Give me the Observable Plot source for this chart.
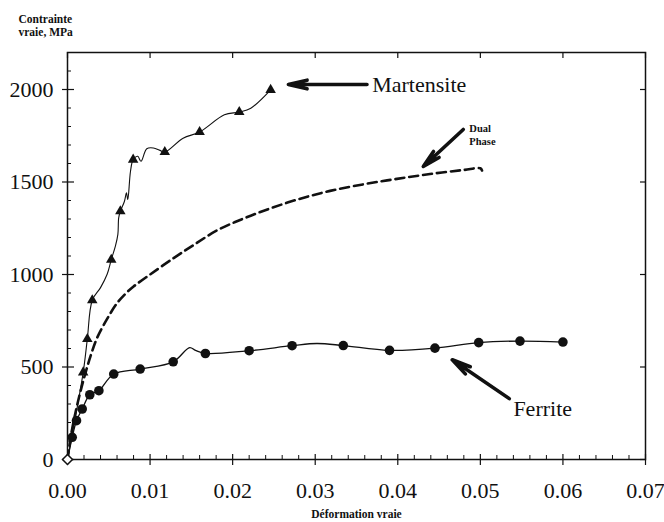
<!DOCTYPE html>
<html>
<head>
<meta charset="utf-8">
<script src="https://cdn.jsdelivr.net/npm/d3@7"></script>
<script src="https://cdn.jsdelivr.net/npm/@observablehq/plot@0.6"></script>
<style>
  html, body { margin: 0; padding: 0; background: #fff; }
</style>
</head>
<body>
<div id="chart"></div>
<script>
// ---- Tick labels ----
const xTicks = [0, 0.01, 0.02, 0.03, 0.04, 0.05, 0.06, 0.07];
const yTicks = [0, 500, 1000, 1500, 2000];
const xMinor = d3.range(0.002, 0.07, 0.002).filter(v => Math.abs(v * 100 - Math.round(v * 100)) > 1e-6);
const yMinor = d3.range(100, 2200, 100).filter(v => v % 500 !== 0);

// ---- Martensite (curve + triangles) ----
const martStrain = [0, 0.0019, 0.0024, 0.0030, 0.0040, 0.0048, 0.0053, 0.0058, 0.0061, 0.0062, 0.0064, 0.0069, 0.00714, 0.0073, 0.00763, 0.00795, 0.0085, 0.0089, 0.0096, 0.0104, 0.0112, 0.01178, 0.0140, 0.0160, 0.0190, 0.0208, 0.0222, 0.0246];
const martStress = [0, 471, 651, 861, 929, 1001, 1080, 1153, 1217, 1306, 1342, 1396, 1441, 1405, 1558, 1621, 1639, 1612, 1680, 1684, 1671, 1662, 1737, 1770, 1863, 1878, 1899, 1998];
const martMarkStrain = [0.0019, 0.0024, 0.0030, 0.0053, 0.0064, 0.00795, 0.01178, 0.0160, 0.0208, 0.0246];
const martMarkStress = [471, 651, 861, 1080, 1342, 1621, 1662, 1770, 1878, 1998];

// ---- Dual Phase (dashed curve) ----
const dpStrain = [0, 0.0005, 0.0012, 0.0020, 0.0028, 0.0036, 0.0048, 0.0060, 0.0070, 0.0080, 0.0100, 0.0129, 0.0153, 0.0181, 0.0213, 0.0246, 0.0282, 0.0318, 0.0359, 0.0399, 0.0439, 0.0480, 0.0500, 0.0502];
const dpStress = [0, 150, 300, 440, 560, 659, 760, 845, 895, 935, 1000, 1090, 1160, 1238, 1302, 1358, 1410, 1452, 1488, 1517, 1543, 1565, 1574, 1562];

// ---- Ferrite (curve + circles) ----
const ferStrain = [0, 0.00057, 0.00109, 0.00178, 0.0027, 0.0038, 0.0056, 0.0088, 0.0128, 0.0148, 0.0155, 0.0167, 0.0220, 0.0272, 0.0302, 0.0334, 0.0390, 0.0445, 0.0498, 0.0548, 0.0600];
const ferStress = [0, 120, 210, 273, 350, 372, 462, 489, 528, 605, 590, 573, 588, 615, 627, 616, 590, 602, 632, 640, 635];
const ferMarkStrain = [0.00057, 0.00109, 0.00178, 0.0027, 0.0038, 0.0056, 0.0088, 0.0128, 0.0167, 0.0220, 0.0272, 0.0334, 0.0390, 0.0445, 0.0498, 0.0548, 0.0600];
const ferMarkStress = [120, 210, 273, 350, 372, 462, 489, 528, 573, 588, 615, 616, 590, 602, 632, 640, 635];

// ---- Origin ----
const originStrain = [0];
const originStress = [0];

// ---- Annotations ----
const labelNames = ["Martensite", "Ferrite"];
const labelStrain = [0.0369, 0.0540];
const labelStress = [2027, 273];
const dpLabel = ["Dual\nPhase"];
const dpLabelStrain = [0.04866];
const dpLabelStress = [1825];
const arrowFromStrain = [0.03627, 0.04793, 0.0535];
const arrowFromStress = [2027, 1784, 329];
const arrowToStrain = [0.02675, 0.04309, 0.0466];
const arrowToStress = [2027, 1584, 539];

const yTitle = "Contrainte\nvraie, MPa";
const xTitle = "Déformation vraie";

const W = 664, H = 522;
const mL = 67, mR = 19, mT = 52, mB = 63;
const pW = W - mL - mR, pH = H - mT - mB;

const zip = (xs, ys) => xs.map((x, i) => ({x, y: ys[i]}));
const mart = zip(martStrain, martStress);
const martMarks = zip(martMarkStrain, martMarkStress);
const dp = zip(dpStrain, dpStress);
const fer = zip(ferStrain, ferStress);
const ferMarks = zip(ferMarkStrain, ferMarkStress);
const origin = zip(originStrain, originStress);
const labels = labelNames.map((t, i) => ({t, x: labelStrain[i], y: labelStress[i]}));
const dpLab = dpLabel.map((t, i) => ({t, x: dpLabelStrain[i], y: dpLabelStress[i]}));
const arrows = arrowFromStrain.map((x1, i) => ({x1, y1: arrowFromStress[i], x2: arrowToStrain[i], y2: arrowToStress[i]}));

const serif = "'Liberation Serif', 'DejaVu Serif', serif";

const chart = Plot.plot({
  width: W,
  height: H,
  marginLeft: mL,
  marginRight: mR,
  marginTop: mT,
  marginBottom: mB,
  style: {fontFamily: serif, color: "#111", background: "#fff"},
  x: {domain: [0, 0.07], axis: null},
  y: {domain: [0, 2200], axis: null},
  marks: [
    // tick labels
    Plot.axisX({ticks: xTicks, tickFormat: d3.format(".2f"), tickSize: 0, tickPadding: 23, fontSize: 22, fontFamily: serif, label: null}),
    Plot.axisY({ticks: yTicks, tickFormat: d => String(d), tickSize: 0, tickPadding: 14, fontSize: 22, fontFamily: serif, label: null}),
    // tick marks (inside the frame)
    Plot.ruleX(xTicks, {x: d => d, insetTop: pH - 5, insetBottom: -6, stroke: "#111", strokeWidth: 1.2}),
    Plot.ruleX(xMinor, {x: d => d, insetTop: pH - 4, stroke: "#111", strokeWidth: 1}),
    Plot.ruleX(xTicks, {x: d => d, insetBottom: pH - 6, stroke: "#111", strokeWidth: 1.2}),
    Plot.ruleY(yTicks, {y: d => d, insetRight: pW - 7, insetLeft: -5, stroke: "#111", strokeWidth: 1.2}),
    Plot.ruleY(yMinor, {y: d => d, insetRight: pW - 4, stroke: "#111", strokeWidth: 1}),
    Plot.ruleY(yTicks, {y: d => d, insetLeft: pW - 5, stroke: "#111", strokeWidth: 1.2}),
    Plot.frame({stroke: "#111", strokeWidth: 1.5}),
    // curves
    Plot.line(dp, {x: "x", y: "y", stroke: "#111", strokeWidth: 2.6, strokeDasharray: "9,5", curve: "catmull-rom"}),
    Plot.line(fer, {x: "x", y: "y", stroke: "#111", strokeWidth: 1.3, curve: "catmull-rom"}),
    Plot.line(mart, {x: "x", y: "y", stroke: "#111", strokeWidth: 1.1, curve: "catmull-rom"}),
    Plot.dot(ferMarks, {x: "x", y: "y", r: 4.8, fill: "#111", stroke: "none"}),
    Plot.dot(martMarks, {x: "x", y: "y", r: 3.9, symbol: "triangle", fill: "#111", stroke: "none"}),
    Plot.dot(origin, {x: "x", y: "y", r: 4.5, symbol: "diamond2", fill: "#fff", stroke: "#111", strokeWidth: 1.5}),
    // annotations
    Plot.arrow(arrows, {x1: "x1", y1: "y1", x2: "x2", y2: "y2", stroke: "#111", strokeWidth: 3.6, headLength: 8, headAngle: 26}),
    Plot.text(labels, {x: "x", y: "y", text: "t", textAnchor: "start", lineAnchor: "middle", fontSize: 22, fontFamily: serif, fill: "#111"}),
    Plot.text(dpLab, {x: "x", y: "y", text: "t", textAnchor: "start", lineAnchor: "top", lineHeight: 1.3, fontSize: 10.5, fontWeight: "bold", fontFamily: serif, fill: "#111"}),
    // axis titles
    Plot.text([yTitle], {frameAnchor: "top-left", dx: -49, dy: -39, textAnchor: "start", lineAnchor: "top", lineHeight: 1.15, fontSize: 11.5, fontWeight: "bold", fontFamily: serif, fill: "#111"}),
    Plot.text([xTitle], {frameAnchor: "bottom", dy: 55, textAnchor: "middle", lineAnchor: "middle", fontSize: 11.5, fontWeight: "bold", fontFamily: serif, fill: "#111"})
  ]
});
document.getElementById("chart").append(chart);
</script>
</body>
</html>
